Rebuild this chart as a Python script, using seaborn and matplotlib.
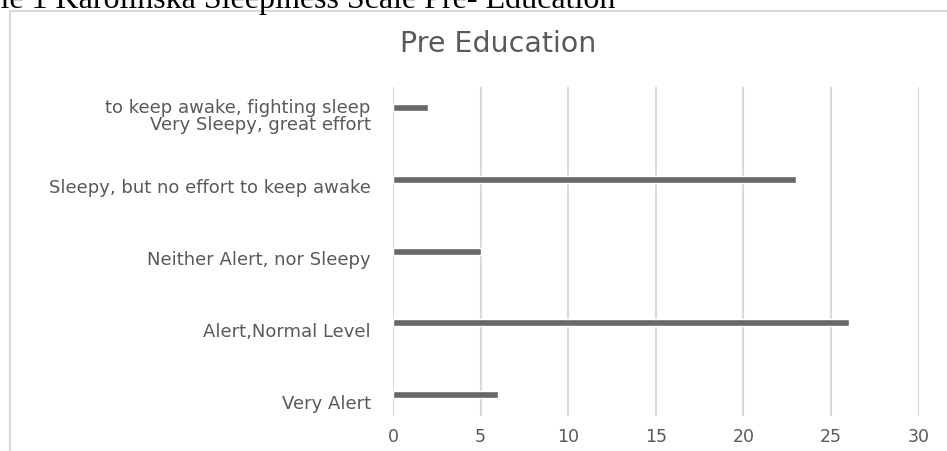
import matplotlib
matplotlib.use("Agg")
import matplotlib.pyplot as plt
import matplotlib.transforms as mtransforms
import pandas as pd
import seaborn as sns

# Karolinska Sleepiness Scale, pre education counts
categories = ["to keep awake, fighting sleep\nVery Sleepy, great effort",
              "Sleepy, but no effort to keep awake",
              "Neither Alert, nor Sleepy",
              "Alert,Normal Level",
              "Very Alert"]
counts = [2, 23, 5, 26, 6]
x_ticks = [0, 5, 10, 15, 20, 25, 30]

df = pd.DataFrame({"level": categories, "count": counts})

sns.set_theme(style="white")
plt.rcParams['font.family'] = ['DejaVu Sans']

fig = plt.figure(figsize=(9.47, 4.52), dpi=100)
ax = fig.add_axes([0.415, 0.0774, 0.555, 0.7279])

sns.barplot(data=df, x="count", y="level", orient="h", color="#686868",
            width=0.1, saturation=1, ax=ax)

ax.set_xlim(0, 30)
ax.set_ylim(4.30, -0.29)
ax.set_xticks(x_ticks)
ax.xaxis.grid(True, color="#d9d9d9", linewidth=1.5)
ax.set_axisbelow(True)
for s in ax.spines.values():
    s.set_visible(False)
ax.set_xlabel("")
ax.set_ylabel("")
ax.tick_params(axis="both", length=0, colors="#595959")
ax.tick_params(axis="x", labelsize=12.5, pad=8)
ax.tick_params(axis="y", labelsize=13, pad=16)

# labels sit a little below the bars in the original
shift = mtransforms.ScaledTranslation(0, -6 / 100, fig.dpi_scale_trans)
for lab in ax.get_yticklabels():
    lab.set_transform(lab.get_transform() + shift)
    lab.set_linespacing(0.95)

fig.text(498 / 947, 1 - 44 / 452, "Pre Education", fontsize=20.5, color="#595959",
         ha="center", va="center")

# chart frame and the caption cut off above it
fig.patches.append(plt.Rectangle((10 / 947, -0.1), 1.2, 1.1 - 12 / 452,
                                 transform=fig.transFigure, fill=False,
                                 edgecolor="#d9d9d9", linewidth=1.5))
fig.text(-0.05, 1 - 8 / 452, "Table 1 Karolinska Sleepiness Scale Pre- Education",
         fontsize=23, fontfamily="Liberation Serif", color="black", va="baseline")

fig.savefig("out.png", dpi=100)
